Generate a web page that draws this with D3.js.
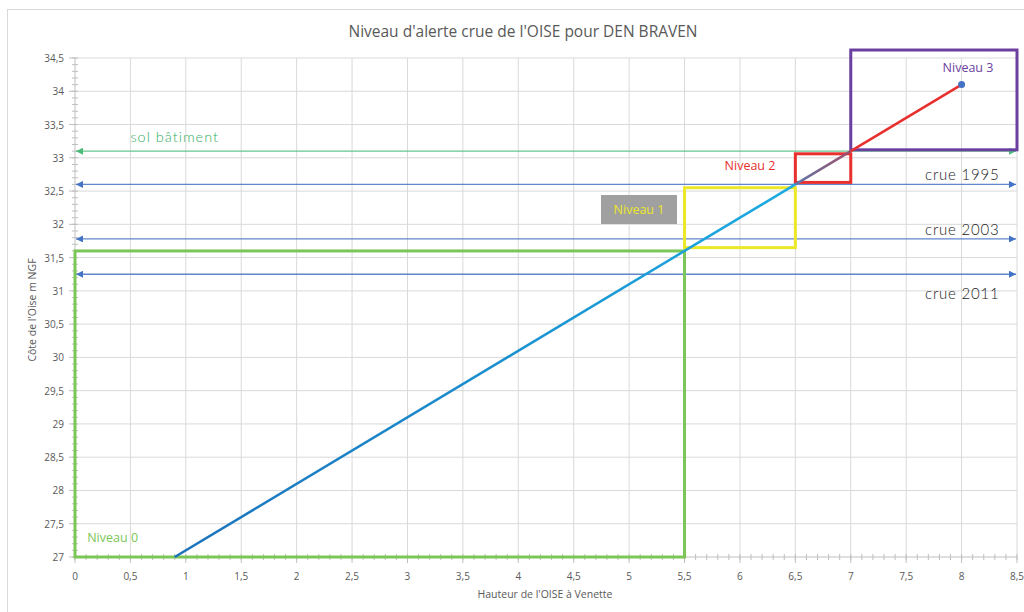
<!DOCTYPE html>
<html>
<head>
<meta charset="utf-8">
<script src="https://cdn.jsdelivr.net/npm/d3@7"></script>
<style>
  body { margin: 0; background: #fff; }
  svg { display: block; font-family: "Open Sans", "Noto Sans", sans-serif; }
</style>
</head>
<body>
<div id="chart-container"></div>
<script>
// courbe de la cote en fonction de la hauteur
const hauteur = [0.9, 5.5, 6.5, 7, 8];
const cote = [27, 31.6, 32.6, 33.1, 34.1];

// cadres des niveaux d'alerte
const niveauNoms = ['Niveau 0', 'Niveau 1', 'Niveau 2', 'Niveau 3'];
const niveauHautMin = [0, 5.5, 6.5, 7];
const niveauHautMax = [5.5, 6.5, 7, 8.5];
const niveauCoteMin = [27, 31.65, 32.63, 33.12];
const niveauCoteMax = [31.6, 32.55, 33.06, 34.62];

// lignes de repere
const repereNoms = ['sol bâtiment', 'crue 1995', 'crue 2003', 'crue 2011'];
const repereCotes = [33.1, 32.6, 31.78, 31.25];

// graduations
const xTicks = d3.range(0, 8.51, 0.5);
const yTicks = d3.range(27, 34.51, 0.5);
const fmt = v => String(+v.toFixed(1)).replace('.', ',');

const W = 1024, H = 612;
const margin = { left: 75, right: 7, top: 58, bottom: 55 };

const svg = d3.select('#chart-container').append('svg')
    .attr('width', W).attr('height', H);

// bord du graphique
svg.append('rect')
    .attr('x', 7.5).attr('y', 9.5)
    .attr('width', W + 10).attr('height', H + 10)
    .attr('fill', 'none').attr('stroke', '#d9d9d9');

const x = d3.scaleLinear().domain([0, 8.5]).range([margin.left, W - margin.right]);
const y = d3.scaleLinear().domain([27, 34.5]).range([H - margin.bottom, margin.top]);

const defs = svg.append('defs');
const colRepere = ['#4cbb7a', '#4472c4', '#4472c4', '#4472c4'];
colRepere.forEach((c, i) => {
    defs.append('marker')
        .attr('id', 'arr' + i)
        .attr('viewBox', '0 0 10 10')
        .attr('refX', 10).attr('refY', 5)
        .attr('markerWidth', 7).attr('markerHeight', 7)
        .attr('markerUnits', 'userSpaceOnUse')
        .attr('orient', 'auto-start-reverse')
        .append('path').attr('d', 'M0,0L10,5L0,10Z').attr('fill', c);
});

const grad1 = defs.append('linearGradient').attr('id', 'g1')
    .attr('gradientUnits', 'userSpaceOnUse')
    .attr('x1', x(hauteur[0])).attr('y1', y(cote[0]))
    .attr('x2', x(hauteur[2])).attr('y2', y(cote[2]));
grad1.append('stop').attr('offset', 0).attr('stop-color', '#1b72bb');
grad1.append('stop').attr('offset', 1).attr('stop-color', '#1cabe2');

const grad2 = defs.append('linearGradient').attr('id', 'g2')
    .attr('gradientUnits', 'userSpaceOnUse')
    .attr('x1', x(hauteur[2])).attr('y1', y(cote[2]))
    .attr('x2', x(hauteur[3])).attr('y2', y(cote[3]));
grad2.append('stop').attr('offset', 0).attr('stop-color', '#5e78a8');
grad2.append('stop').attr('offset', 1).attr('stop-color', '#a14c6a');

// grille
const g = svg.append('g');
g.selectAll('.vg').data(xTicks.filter(d => d > 0)).enter().append('line')
    .attr('x1', d => x(d)).attr('x2', d => x(d))
    .attr('y1', y(27)).attr('y2', y(34.5))
    .attr('stroke', '#d9d9d9').attr('stroke-width', 1);
g.selectAll('.hg').data(yTicks.filter(d => d > 27)).enter().append('line')
    .attr('x1', x(0)).attr('x2', x(8.5))
    .attr('y1', d => y(d)).attr('y2', d => y(d))
    .attr('stroke', '#d9d9d9').attr('stroke-width', 1);

// axes
const minorX = d3.range(0, 8.501, 0.1);
const minorY = d3.range(27, 34.501, 0.1);
const ax = svg.append('g').attr('stroke', '#bfbfbf');
ax.append('line').attr('x1', x(0)).attr('x2', x(8.5))
    .attr('y1', y(27)).attr('y2', y(27));
ax.append('line').attr('x1', x(0)).attr('x2', x(0))
    .attr('y1', y(27)).attr('y2', y(34.5));
ax.selectAll('.mx').data(minorX).enter().append('line')
    .attr('x1', d => x(d)).attr('x2', d => x(d))
    .attr('y1', y(27) - 3).attr('y2', y(27) + 3);
ax.selectAll('.my').data(minorY).enter().append('line')
    .attr('y1', d => y(d)).attr('y2', d => y(d))
    .attr('x1', x(0) - 3).attr('x2', x(0) + 3);
ax.selectAll('.Mx').data(xTicks).enter().append('line')
    .attr('x1', d => x(d)).attr('x2', d => x(d))
    .attr('y1', y(27)).attr('y2', y(27) + 6);
ax.selectAll('.My').data(yTicks).enter().append('line')
    .attr('y1', d => y(d)).attr('y2', d => y(d))
    .attr('x1', x(0) - 6).attr('x2', x(0));

svg.selectAll('.xl').data(xTicks).enter().append('text')
    .attr('x', d => x(d)).attr('y', y(27) + 23)
    .attr('text-anchor', 'middle')
    .attr('font-size', 10).attr('fill', '#595959')
    .text(fmt);
svg.selectAll('.yl').data(yTicks).enter().append('text')
    .attr('x', x(0) - 11).attr('y', d => y(d) + 4)
    .attr('text-anchor', 'end')
    .attr('font-size', 10).attr('fill', '#595959')
    .text(fmt);

// titres
svg.append('text').attr('x', 523).attr('y', 37)
    .attr('text-anchor', 'middle').attr('font-size', 15.5).attr('fill', '#595959')
    .text("Niveau d'alerte crue de l'OISE pour DEN BRAVEN");
svg.append('text').attr('x', 545).attr('y', 598)
    .attr('text-anchor', 'middle').attr('font-size', 10.5).attr('fill', '#595959')
    .text("Hauteur de l'OISE à Venette");
svg.append('text').attr('transform', 'translate(36,310) rotate(-90)')
    .attr('text-anchor', 'middle').attr('font-size', 10.5).attr('fill', '#595959')
    .text("Côte de l'Oise m NGF");

// lignes de repere
svg.selectAll('.rep').data(repereCotes).enter().append('line')
    .attr('x1', x(0) + 1).attr('x2', x(8.5) - 1)
    .attr('y1', d => y(d)).attr('y2', d => y(d))
    .attr('stroke', (d, i) => colRepere[i])
    .attr('stroke-opacity', 0.85)
    .attr('stroke-width', 1.3)
    .attr('marker-start', (d, i) => `url(#arr${i})`)
    .attr('marker-end', (d, i) => `url(#arr${i})`);

// cadres
const colNiveau = ['#7cc657', '#ece827', '#e8302e', '#6a3fa0'];
svg.selectAll('.box').data(niveauNoms).enter().append('rect')
    .attr('x', (d, i) => x(niveauHautMin[i]))
    .attr('y', (d, i) => y(niveauCoteMax[i]))
    .attr('width', (d, i) => x(niveauHautMax[i]) - x(niveauHautMin[i]))
    .attr('height', (d, i) => y(niveauCoteMin[i]) - y(niveauCoteMax[i]))
    .attr('fill', 'none')
    .attr('stroke', (d, i) => colNiveau[i])
    .attr('stroke-width', 3);

// courbe
const segStroke = ['url(#g1)', 'url(#g1)', 'url(#g2)', '#e8302e'];
const segs = d3.range(hauteur.length - 1);
svg.selectAll('.seg').data(segs).enter().append('line')
    .attr('x1', i => x(hauteur[i])).attr('y1', i => y(cote[i]))
    .attr('x2', i => x(hauteur[i + 1])).attr('y2', i => y(cote[i + 1]))
    .attr('stroke', i => segStroke[i])
    .attr('stroke-width', 2.5);
svg.append('circle')
    .attr('cx', x(hauteur[hauteur.length - 1]))
    .attr('cy', y(cote[cote.length - 1]))
    .attr('r', 3.5).attr('fill', '#4472c4');

// etiquettes
svg.append('text').attr('x', x(0.5)).attr('y', y(33.23))
    .attr('font-size', 14.5).attr('fill', '#2fae62')
    .attr('font-family', 'Lato, sans-serif').attr('font-weight', 300)
    .attr('letter-spacing', 1)
    .text(repereNoms[0]);
const crueY = [180, 235, 299];
repereNoms.slice(1).forEach((t, i) => {
    svg.append('text').attr('x', x(7.67)).attr('y', crueY[i])
        .attr('font-size', 15).attr('fill', '#1a1a1a')
        .attr('font-family', 'Lato, sans-serif').attr('font-weight', 300)
        .attr('letter-spacing', 0.8)
        .text(t);
});

svg.append('text').attr('x', x(0.11)).attr('y', 542)
    .attr('font-size', 12.5).attr('fill', '#7cc657').text(niveauNoms[0]);
svg.append('rect').attr('x', 601).attr('y', 195).attr('width', 76).attr('height', 29)
    .attr('fill', '#a0a0a0');
svg.append('text').attr('x', 639).attr('y', 214).attr('text-anchor', 'middle')
    .attr('font-size', 12.5).attr('fill', '#ece827').text(niveauNoms[1]);
svg.append('text').attr('x', 750).attr('y', 170).attr('text-anchor', 'middle')
    .attr('font-size', 12.5).attr('fill', '#e8302e').text(niveauNoms[2]);
svg.append('text').attr('x', 968).attr('y', 72).attr('text-anchor', 'middle')
    .attr('font-size', 12.5).attr('fill', '#6a3fa0').text(niveauNoms[3]);
</script>
</body>
</html>
